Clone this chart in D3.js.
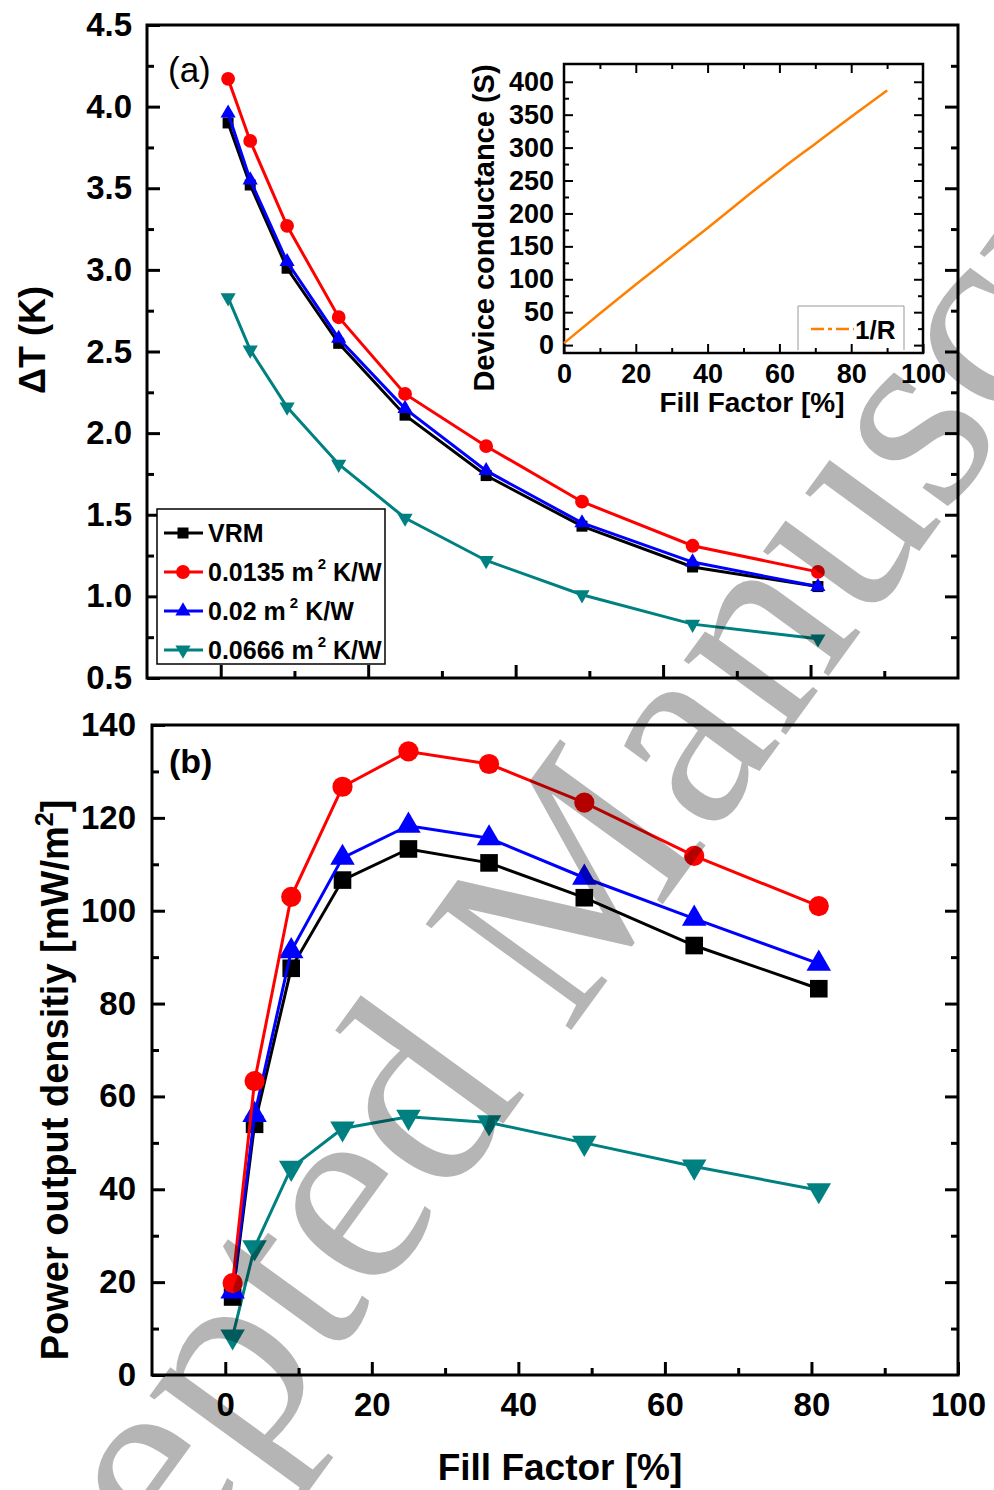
<!DOCTYPE html>
<html>
<head>
<meta charset="utf-8">
<script src="https://cdn.jsdelivr.net/npm/d3@7"></script>
<style>
  body { margin: 0; background: #fff; }
  svg { display: block; font-family: "Liberation Sans", Arial, sans-serif; font-weight: bold; }
</style>
</head>
<body>
<svg id="chart" width="994" height="1490"></svg>
<script>
// fill factor [%] of the simulated devices
var fill = [1, 4, 9, 16, 25, 36, 49, 64, 81];

// (a) temperature difference dT (K)
var dtVRM   = [3.90, 3.52, 3.01, 2.55, 2.11, 1.74, 1.43, 1.18, 1.06];
var dt0135  = [4.17, 3.79, 3.27, 2.71, 2.24, 1.92, 1.58, 1.31, 1.15];
var dt02    = [3.96, 3.55, 3.05, 2.58, 2.15, 1.77, 1.45, 1.21, 1.06];
var dt0666  = [2.83, 2.51, 2.16, 1.81, 1.48, 1.22, 1.01, 0.83, 0.74];

// (b) power output density [mW/m2]
var pVRM    = [16.8, 54.0, 87.6, 106.6, 113.3, 110.3, 102.8, 92.5, 83.2];
var p0135   = [19.8, 63.3, 103.0, 126.7, 134.3, 131.6, 123.3, 111.8, 101.0];
var p02     = [18.0, 56.0, 91.3, 111.4, 118.3, 115.6, 107.1, 98.3, 88.6];
var p0666   = [8.3, 27.5, 44.6, 53.1, 55.6, 54.4, 50.0, 44.9, 39.8];

// inset: device conductance 1/R (S)
var gFill   = [0, 10, 20, 30, 40, 50, 60, 70, 80, 90];
var gCond   = [3, 48, 92, 135, 178, 222, 265, 306, 347, 387];

var seriesNames  = ["VRM", "0.0135", "0.02", "0.0666"];
var seriesColors = ["#000000", "#ff0000", "#0000ff", "#008080"];

var svg = d3.select("#chart");
var font = "'Liberation Sans', Arial, sans-serif";

var xA = d3.scaleLinear().domain([-10, 100]).range([147, 958]);
var yA = d3.scaleLinear().domain([0.5, 4.5]).range([678, 25]);
var xB = d3.scaleLinear().domain([-10, 100]).range([152, 958]);
var yB = d3.scaleLinear().domain([0, 140]).range([1375, 725]);
var xI = d3.scaleLinear().domain([0, 100]).range([564, 923]);
var yI = d3.scaleLinear().domain([-12, 427]).range([353, 64]);

function addAxis(axis, pos, values, size, fmt, pad, fs, sw) {
  var g = svg.append("g")
    .attr("transform", "translate(" + pos[0] + "," + pos[1] + ")")
    .call(axis.tickValues(values).tickSize(-size).tickPadding(pad).tickFormat(fmt));
  g.select(".domain").remove();
  g.selectAll(".tick line").attr("stroke", "#000").attr("stroke-width", sw);
  g.selectAll(".tick text")
    .attr("fill", "#000")
    .style("font-family", font)
    .style("font-weight", "bold")
    .style("font-size", fs + "px");
  return g;
}
var none = function() { return ""; };

// ---------- panel (a) ----------
addAxis(d3.axisLeft(yA), [147, 0], d3.range(0.75, 4.5, 0.5), 7, none, 0, 10, 3);
addAxis(d3.axisLeft(yA), [147, 0], d3.range(0.5, 4.51, 0.5), 13, d3.format(".1f"), 15, 33, 3);
addAxis(d3.axisRight(yA), [958, 0], d3.range(0.75, 4.5, 0.5), 7, none, 0, 10, 3);
addAxis(d3.axisRight(yA), [958, 0], d3.range(1, 4.5, 0.5), 13, none, 0, 10, 3);
addAxis(d3.axisBottom(xA), [0, 678], [10, 30, 50, 70, 90], 7, none, 0, 10, 3);
addAxis(d3.axisBottom(xA), [0, 678], [0, 20, 40, 60, 80], 13, none, 0, 10, 3);

// ---------- panel (b) ----------
addAxis(d3.axisLeft(yB), [152, 0], d3.range(10, 140, 20), 7, none, 0, 10, 3);
addAxis(d3.axisLeft(yB), [152, 0], d3.range(0, 141, 20), 13, d3.format("d"), 16, 33, 3);
addAxis(d3.axisRight(yB), [958, 0], d3.range(10, 140, 20), 7, none, 0, 10, 3);
addAxis(d3.axisRight(yB), [958, 0], d3.range(20, 140, 20), 13, none, 0, 10, 3);
addAxis(d3.axisBottom(xB), [0, 1375], [10, 30, 50, 70, 90], 7, none, 0, 10, 3);
addAxis(d3.axisBottom(xB), [0, 1375], [0, 20, 40, 60, 80, 100], 13, d3.format("d"), 18, 33, 3);

// frames
svg.append("rect").attr("x", 147).attr("y", 25).attr("width", 958 - 147).attr("height", 678 - 25)
  .attr("fill", "none").attr("stroke", "#000").attr("stroke-width", 3);
svg.append("rect").attr("x", 152).attr("y", 725).attr("width", 958 - 152).attr("height", 1375 - 725)
  .attr("fill", "none").attr("stroke", "#000").attr("stroke-width", 3);

var symA = [d3.symbolSquare, d3.symbolCircle, d3.symbolTriangle, d3.symbolTriangle];
var sizeA = [121, 150, 100, 100];
var sizeB = [310, 320, 260, 260];

function drawSeries(x, y, xs, ys, i, sizes, lw) {
  var pts = xs.map(function(v, k) { return [v, ys[k]]; });
  var line = d3.line().x(function(d) { return x(d[0]); }).y(function(d) { return y(d[1]); });
  svg.append("path").datum(pts)
    .attr("d", line).attr("fill", "none")
    .attr("stroke", seriesColors[i]).attr("stroke-width", lw);
  svg.append("g").selectAll("path").data(pts).enter().append("path")
    .attr("d", d3.symbol().type(symA[i]).size(sizes[i]))
    .attr("transform", function(d) {
      return "translate(" + x(d[0]) + "," + y(d[1]) + ")" + (i === 3 ? " rotate(180)" : "");
    })
    .attr("fill", seriesColors[i]);
}

var dtAll = [dtVRM, dt0135, dt02, dt0666];
var pAll = [pVRM, p0135, p02, p0666];
[3, 0, 2, 1].forEach(function(i) { drawSeries(xA, yA, fill, dtAll[i], i, sizeA, 3); });
[3, 0, 2, 1].forEach(function(i) { drawSeries(xB, yB, fill, pAll[i], i, sizeB, 3); });

// panel labels
svg.append("text").attr("x", 168).attr("y", 82).style("font-weight", "normal")
  .style("font-size", "35px").text("(a)");
svg.append("text").attr("x", 169).attr("y", 773).style("font-size", "34px").text("(b)");

// legend (a)
svg.append("rect").attr("x", 157).attr("y", 509).attr("width", 228).attr("height", 155)
  .attr("fill", "#fff").attr("stroke", "#000").attr("stroke-width", 1.5);
var legY = [533, 572, 611, 650];
seriesNames.forEach(function(name, i) {
  svg.append("line").attr("x1", 164).attr("x2", 203).attr("y1", legY[i]).attr("y2", legY[i])
    .attr("stroke", seriesColors[i]).attr("stroke-width", 3);
  svg.append("path").attr("d", d3.symbol().type(symA[i]).size(sizeA[i]))
    .attr("transform", "translate(183," + legY[i] + ")" + (i === 3 ? " rotate(180)" : ""))
    .attr("fill", seriesColors[i]);
  var t = svg.append("text").attr("x", 208).attr("y", legY[i] + 9).style("font-size", "25px");
  if (i === 0) {
    t.text(name);
  } else {
    t.append("tspan").text(name + " m");
    t.append("tspan").attr("dx", 4).attr("dy", -12).style("font-size", "15px").text("2");
    t.append("tspan").attr("dx", 7).attr("dy", 12).text("K/W");
  }
});

// ---------- inset ----------
svg.append("rect").attr("x", 564).attr("y", 64).attr("width", 923 - 564).attr("height", 353 - 64)
  .attr("fill", "#fff");
addAxis(d3.axisLeft(yI), [564, 0], d3.range(25, 400, 50), 5, none, 0, 10, 2);
addAxis(d3.axisLeft(yI), [564, 0], d3.range(0, 401, 50), 9, d3.format("d"), 10, 27, 2);
addAxis(d3.axisRight(yI), [923, 0], d3.range(25, 400, 50), 5, none, 0, 10, 2);
addAxis(d3.axisRight(yI), [923, 0], d3.range(0, 401, 50), 9, none, 0, 10, 2);
addAxis(d3.axisBottom(xI), [0, 353], d3.range(10, 100, 20), 5, none, 0, 10, 2);
addAxis(d3.axisBottom(xI), [0, 353], d3.range(0, 101, 20), 9, d3.format("d"), 11, 27, 2);
addAxis(d3.axisTop(xI), [0, 64], d3.range(10, 100, 20), 5, none, 0, 10, 2);
addAxis(d3.axisTop(xI), [0, 64], d3.range(20, 100, 20), 9, none, 0, 10, 2);
svg.append("rect").attr("x", 564).attr("y", 64).attr("width", 923 - 564).attr("height", 353 - 64)
  .attr("fill", "none").attr("stroke", "#000").attr("stroke-width", 2.5);

var gPts = gFill.map(function(v, k) { return [v, gCond[k]]; });
svg.append("path").datum(gPts)
  .attr("d", d3.line().curve(d3.curveMonotoneX)
    .x(function(d) { return xI(d[0]); }).y(function(d) { return yI(d[1]); }))
  .attr("fill", "none").attr("stroke", "#ff8000").attr("stroke-width", 2.5);

svg.append("path").attr("d", "M798,350V306H904V350")
  .attr("fill", "none").attr("stroke", "#999").attr("stroke-width", 1);
svg.append("line").attr("x1", 811).attr("x2", 854).attr("y1", 329).attr("y2", 329)
  .attr("stroke", "#ff8000").attr("stroke-width", 2.5).attr("stroke-dasharray", "13,4,4,4");
svg.append("text").attr("x", 855).attr("y", 339).style("font-size", "26px").text("1/R");

svg.append("text").attr("transform", "translate(494,228) rotate(-90)")
  .attr("text-anchor", "middle").style("font-size", "29px").text("Device conductance (S)");
svg.append("text").attr("x", 752).attr("y", 412)
  .attr("text-anchor", "middle").style("font-size", "28px").text("Fill Factor [%]");

// ---------- axis titles ----------
svg.append("text").attr("transform", "translate(45,340) rotate(-90)")
  .attr("text-anchor", "middle").style("font-size", "36px").text("\u0394T (K)");
var pt = svg.append("text").attr("transform", "translate(68,1080) rotate(-90)")
  .attr("text-anchor", "middle").style("font-size", "38px");
pt.append("tspan").text("Power output densitiy [mW/m");
pt.append("tspan").attr("dy", -15).style("font-size", "25px").text("2");
pt.append("tspan").attr("dy", 15).text("]");
svg.append("text").attr("x", 560).attr("y", 1480)
  .attr("text-anchor", "middle").style("font-size", "37px").text("Fill Factor [%]");

// watermark
svg.append("text").attr("transform", "translate(-84,1932) rotate(-54)")
  .style("font-family", "'Liberation Serif', 'Times New Roman', serif")
  .style("font-weight", "normal").style("font-size", "275px")
  .attr("fill", "#000").attr("fill-opacity", 0.29)
  .text("Accepted Manuscript");
</script>
</body>
</html>
